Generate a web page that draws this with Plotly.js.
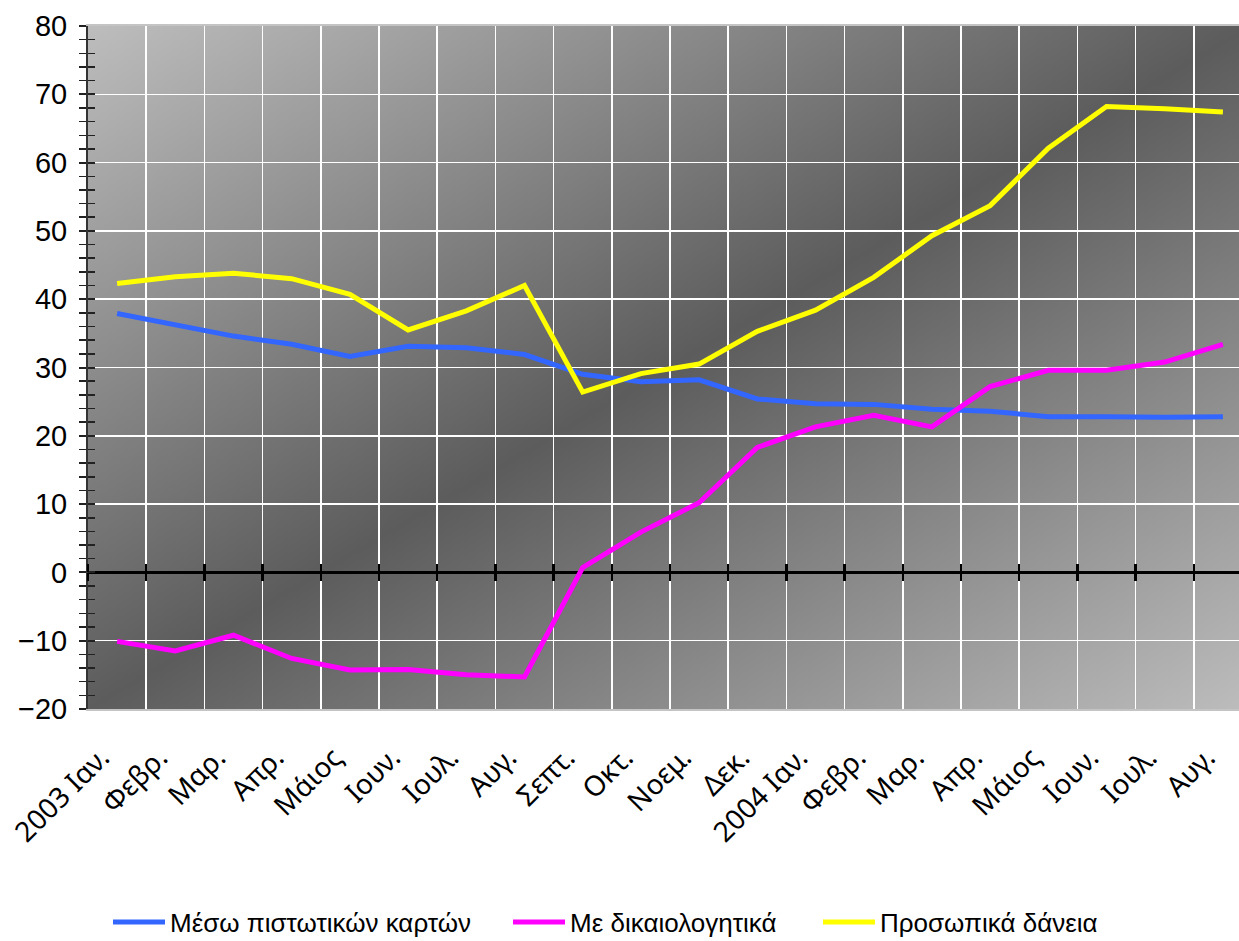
<!DOCTYPE html>
<html>
<head>
<meta charset="utf-8">
<script src="https://cdn.plot.ly/plotly-3.0.1.min.js"></script>
<style>
  html, body { margin: 0; padding: 0; background: #fff; overflow: hidden; }
  #chart { width: 1262px; height: 941px; }
</style>
</head>
<body>
<div id="chart"></div>
<script>
// Monthly periods (unique keys) and the labels shown under the axis
const periods = ['2003-01','2003-02','2003-03','2003-04','2003-05','2003-06','2003-07','2003-08','2003-09','2003-10','2003-11','2003-12',
                 '2004-01','2004-02','2004-03','2004-04','2004-05','2004-06','2004-07','2004-08'];
const monthLabels = ['2003 Ιαν.','Φεβρ.','Μαρ.','Απρ.','Μάιος','Ιουν.','Ιουλ.','Αυγ.','Σεπτ.','Οκτ.','Νοεμ.','Δεκ.',
                     '2004 Ιαν.','Φεβρ.','Μαρ.','Απρ.','Μάιος','Ιουν.','Ιουλ.','Αυγ.'];

// Series values
const cardsName = 'Μέσω πιστωτικών καρτών';
const cards = [37.9, 36.3, 34.6, 33.4, 31.6, 33.1, 32.9, 31.9, 29.0, 27.9, 28.2, 25.4,
               24.7, 24.6, 23.9, 23.6, 22.8, 22.8, 22.7, 22.8];

const docsName = 'Με δικαιολογητικά';
const docs = [-10.1, -11.5, -9.2, -12.6, -14.3, -14.2, -15.0, -15.3, 0.7, 5.9, 10.2, 18.3,
              21.3, 23.0, 21.3, 27.2, 29.6, 29.6, 30.8, 33.4];

const personalName = 'Προσωπικά δάνεια';
const personal = [42.3, 43.3, 43.8, 43.0, 40.7, 35.5, 38.3, 42.0, 26.4, 29.1, 30.5, 35.3,
                  38.4, 43.2, 49.3, 53.7, 62.1, 68.2, 67.9, 67.4];

const yTicks = [-20, -10, 0, 10, 20, 30, 40, 50, 60, 70, 80];

// Diagonal grey gradient used as the plot-area fill
const gradientSvg =
  '<svg xmlns="http://www.w3.org/2000/svg" width="100" height="100" viewBox="0 0 100 100" preserveAspectRatio="none">' +
  '<defs><linearGradient id="g" x1="0" y1="0" x2="1" y2="1">' +
  '<stop offset="0" stop-color="#bdbdbd"/><stop offset="0.5" stop-color="#5c5c5c"/><stop offset="1" stop-color="#bdbdbd"/>' +
  '</linearGradient></defs><rect x="0" y="0" width="100" height="100" fill="url(#g)"/></svg>';
const gradientSrc = 'data:image/svg+xml;charset=utf-8,' + encodeURIComponent(gradientSvg);

const lineStyle = (color) => ({ color: color, width: 5 });
const empty = periods.map(() => null);

const traces = [
  { type: 'scatter', mode: 'lines', name: cardsName, x: periods, y: cards, line: lineStyle('#3366ff'), legend: 'legend' },
  { type: 'scatter', mode: 'lines', name: docsName, x: periods, y: docs, line: lineStyle('#ff00ff'), legend: 'legend2' },
  { type: 'scatter', mode: 'lines', name: personalName, x: periods, y: personal, line: lineStyle('#ffff00'), legend: 'legend3' },
  // helper traces so the tick-only axes are drawn
  { type: 'scatter', mode: 'lines', x: periods, y: empty, xaxis: 'x2', showlegend: false, hoverinfo: 'skip' },
  { type: 'scatter', mode: 'lines', x: periods, y: empty, xaxis: 'x3', showlegend: false, hoverinfo: 'skip' },
  { type: 'scatter', mode: 'lines', x: periods, y: empty, yaxis: 'y2', showlegend: false, hoverinfo: 'skip' }
];

const catAxisBase = {
  type: 'category',
  categoryorder: 'array',
  categoryarray: periods,
  range: [-0.5, periods.length - 0.5],
  tickmode: 'array',
  tickvals: periods,
  tickson: 'boundaries',
  automargin: false,
  fixedrange: true
};

// one legend box per series, spaced along a single row
const legendBox = (left) => ({
  orientation: 'h',
  x: (left - 88) / 1164, xanchor: 'left',
  y: -(922 - 709) / 683, yanchor: 'middle',
  font: { family: 'Liberation Sans, Arial, sans-serif', size: 26, color: '#000' },
  bgcolor: 'rgba(0,0,0,0)',
  borderwidth: 0,
  itemwidth: 52
});

const layout = {
  width: 1262,
  height: 941,
  margin: { l: 88, r: 10, t: 26, b: 232, autoexpand: false },
  paper_bgcolor: '#ffffff',
  plot_bgcolor: 'rgba(0,0,0,0)',
  showlegend: true,
  images: [{
    source: gradientSrc, xref: 'paper', yref: 'paper', x: 0, y: 1, sizex: 1, sizey: 1,
    xanchor: 'left', yanchor: 'top', sizing: 'stretch', layer: 'below'
  }],
  xaxis: Object.assign({}, catAxisBase, {
    ticktext: monthLabels,
    tickangle: -45,
    ticks: '',
    showgrid: true,
    gridcolor: '#ffffff',
    gridwidth: 1.5,
    showline: true,
    linecolor: '#c4c4c4',
    linewidth: 2,
    mirror: true,
    ticklabelstandoff: 19,
    ticklabelshift: -16,
    tickfont: { family: 'Noto Sans, Open Sans, sans-serif', size: 28, color: '#000' }
  }),
  // cross tick marks along the zero line
  xaxis2: Object.assign({}, catAxisBase, {
    overlaying: 'x', anchor: 'free', position: 0.2, side: 'bottom',
    ticks: 'outside', ticklen: 8, tickwidth: 2.5, tickcolor: '#000',
    showticklabels: false, showgrid: false, showline: false, zeroline: false
  }),
  xaxis3: Object.assign({}, catAxisBase, {
    overlaying: 'x', anchor: 'free', position: 0.2, side: 'top',
    ticks: 'outside', ticklen: 8, tickwidth: 2.5, tickcolor: '#000',
    showticklabels: false, showgrid: false, showline: false, zeroline: false
  }),
  yaxis: {
    range: [-20, 80],
    tickmode: 'array',
    tickvals: yTicks,
    ticks: 'outside', ticklen: 7, tickwidth: 2, tickcolor: '#222',
    minor: { dtick: 2, ticks: 'outside', ticklen: 7, tickwidth: 1.5, tickcolor: '#222', showgrid: false },
    showgrid: true, gridcolor: '#ffffff', gridwidth: 1.5,
    zeroline: true, zerolinecolor: '#000000', zerolinewidth: 3,
    showline: true, linecolor: '#333333', linewidth: 2,
    ticklabelstandoff: 6,
    automargin: false,
    tickfont: { family: 'Liberation Sans, Arial, sans-serif', size: 29, color: '#000' },
    fixedrange: true
  },
  yaxis2: {
    overlaying: 'y', anchor: 'x', side: 'left',
    range: [-20, 80],
    tickmode: 'array',
    tickvals: yTicks,
    ticks: 'inside', ticklen: 7, tickwidth: 2, tickcolor: '#222',
    minor: { dtick: 2, ticks: 'inside', ticklen: 7, tickwidth: 1.5, tickcolor: '#222', showgrid: false },
    showticklabels: false, showgrid: false, zeroline: false, showline: false,
    automargin: false,
    fixedrange: true
  },
  legend: legendBox(108),
  legend2: legendBox(508),
  legend3: legendBox(818)
};

Plotly.newPlot('chart', traces, layout, { displayModeBar: false, staticPlot: true });
</script>
</body>
</html>
